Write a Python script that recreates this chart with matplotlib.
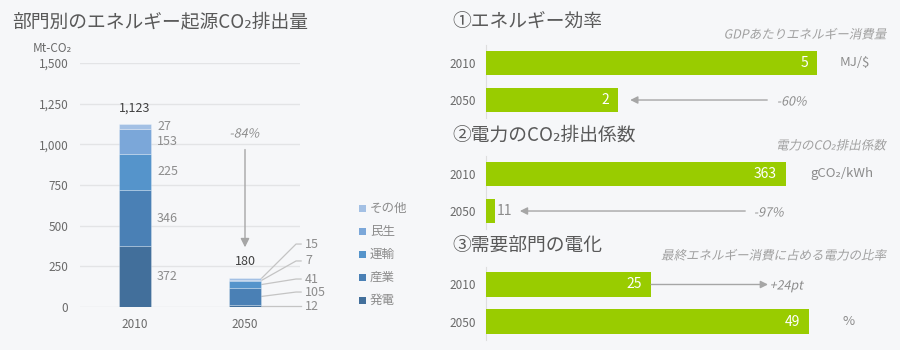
import matplotlib
matplotlib.use("Agg")
import matplotlib.pyplot as plt
from matplotlib.textpath import TextPath
from matplotlib.patches import PathPatch
from matplotlib.font_manager import FontProperties
from matplotlib.transforms import Affine2D, IdentityTransform, offset_copy

plt.rcParams['font.family'] = ['Noto Sans CJK JP', 'DejaVu Sans']

# ---- data -------------------------------------------------------------
years = ['2010', '2050']
sectors = ['発電', '産業', '運輸', '民生', 'その他']
power_gen = [372, 12]
industry = [346, 105]
transport = [225, 41]
residential = [153, 7]
other = [27, 15]
co2_change = '-84%'

energy_intensity = [5, 2]          # MJ/$
intensity_change = '-60%'
grid_emission_factor = [363, 11]   # gCO2/kWh
factor_change = '-97%'
electrification_rate = [25, 49]    # %
electrification_change = '+24pt'

# ---- styling ------------------------------------------------------------
BG = '#f6f7f9'
sector_colors = ['#426f9b', '#4a80b5', '#5594cb', '#7ba7d9', '#a3c0e4']
GREEN = '#99cc00'
TITLE = '#595959'
LABEL = '#8c8c8c'
TICK = '#6a6a6a'
ARROW = '#a6a6a6'
W, H = 900, 350

fig = plt.figure(figsize=(9, 3.5), dpi=100, facecolor=BG)


def px_axes(left, top, right, bottom):
    return fig.add_axes([left / W, 1 - bottom / H, (right - left) / W, (bottom - top) / H])


def fig_text(x, y, s, **kw):
    return fig.text(x / W, 1 - y / H, s, **kw)


def slanted_text(x, y, s, size, color, ha='left'):
    """Draw oblique text (the CJK font has no italic face) at pixel (x, y from top)."""
    prop = FontProperties(family=['Noto Sans CJK JP', 'DejaVu Sans'])
    path = TextPath((0, 0), s, size=size, prop=prop)
    scale = fig.dpi / 72
    tr = Affine2D().skew_deg(12, 0).scale(scale)
    p = tr.transform_path(path)
    e = p.get_extents()
    if ha == 'left':
        dx = x - e.x0
    elif ha == 'right':
        dx = x - e.x1
    else:
        dx = x - (e.x0 + e.x1) / 2
    dy = (H - y) - (size * scale * 0.36)
    p = Affine2D().translate(dx, dy).transform_path(p)
    fig.add_artist(PathPatch(p, facecolor=color, edgecolor='none',
                             transform=IdentityTransform()))


# ---- left: stacked sector emissions ---------------------------------------
ax = px_axes(80, 63, 300, 307)
ax.set_facecolor(BG)
x = [0, 1]
stack = [power_gen, industry, transport, residential, other]
bottoms = [0, 0]
bar_w = 0.29
for vals, col, name in zip(stack, sector_colors, sectors):
    ax.bar(x, vals, bar_w, bottom=bottoms, color=col, edgecolor=(1, 1, 1, 0.3),
           linewidth=0.6, label=name, zorder=3)
    bottoms = [b + v for b, v in zip(bottoms, vals)]
totals = bottoms

ax.set_xlim(-0.5, 1.5)
ax.set_ylim(0, 1500)
ax.set_yticks(range(0, 1501, 250))
ax.set_yticklabels([f'{v:,}' for v in range(0, 1501, 250)])
ax.set_xticks(x)
ax.set_xticklabels(years)
ax.tick_params(length=0, colors=TICK, labelsize=8.5, pad=8)
ax.tick_params(axis='y', pad=8.5)
ax.grid(axis='y', color='#e3e4e6', linewidth=1, zorder=0)
for sp in ax.spines.values():
    sp.set_visible(False)

# totals above bars
for xi, t in zip(x, totals):
    ax.annotate(f'{t:,}', (xi, t), xytext=(0, 12), textcoords='offset points',
                ha='center', va='center', fontsize=9, color='#404040')

# 2010 segment labels
b = 0
for vals in stack:
    v = vals[0]
    ax.text(x[0] + bar_w / 2 + 0.055, b + v / 2, f'{v}', ha='left', va='center',
            fontsize=9, color=LABEL)
    b += v

# 2050 segment labels with leader lines
callout_y = [6, 92, 172, 283, 387]
b = 0
for vals, ly in zip(stack, callout_y):
    v = vals[1]
    mid = b + v / 2
    ax.plot([x[1] + bar_w / 2, 1.464, 1.51], [mid, ly, ly], color='#c4c4c4',
            lw=0.9, clip_on=False, zorder=2)
    ax.text(1.545, ly, f'{v}', ha='left', va='center', fontsize=9, color=LABEL,
            clip_on=False)
    b += v

# reduction arrow
ax.annotate('', xy=(1, 350), xytext=(1, 985),
            arrowprops=dict(arrowstyle='-|>', color=ARROW, lw=1, mutation_scale=13))
slanted_text(245, 133, co2_change, 9, LABEL, ha='center')

# legend
legend_rows = [208, 231, 254, 277, 300]
for name, col, ly in zip(reversed(sectors), reversed(sector_colors), legend_rows):
    fig.add_artist(plt.Rectangle((359 / W, 1 - (ly + 3.5) / H), 7 / W, 7 / H,
                                 facecolor=col, edgecolor='none',
                                 transform=fig.transFigure))
    fig_text(370, ly, name, fontsize=9, color=LABEL, va='center', ha='left')

fig_text(12, 22, '部門別のエネルギー起源CO₂排出量', fontsize=13.5, color=TITLE,
         va='center', ha='left')
fig_text(52, 48, 'Mt-CO₂', fontsize=8.5, color=TICK, va='center', ha='center')


# ---- right: three indicator panels ---------------------------------------
def indicator(top, values, px_per_unit, title, subtitle, unit, unit_row, unit_x,
              title_y, sub_y):
    a = px_axes(486, top, 866, top + 73)
    a.patch.set_alpha(0)
    a.barh([0, 1], values, height=0.65, color=GREEN, zorder=3)
    a.set_xlim(0, 380 / px_per_unit)
    a.set_ylim(1.486, -0.486)
    a.set_xticks([])
    a.set_yticks([0, 1])
    a.set_yticklabels(years)
    a.tick_params(length=0, colors=TICK, labelsize=8.5, pad=7.5)
    for k, sp in a.spines.items():
        sp.set_visible(k == 'left')
    a.spines['left'].set_color('#dedede')
    fig_text(452, title_y, title, fontsize=13.5, color=TITLE, va='center', ha='left')
    slanted_text(887, sub_y, subtitle, 9, '#a0a0a0', ha='right')
    a.text(unit_x, unit_row, unit, transform=a.get_yaxis_transform(),
           fontsize=9.5, color=LABEL, va='center', ha='left')
    return a


def inside_label(a, v, row):
    tr = offset_copy(a.transData, fig=fig, x=-9, y=0, units='dots')
    a.text(v, row, f'{v}', transform=tr, ha='right', va='center',
           fontsize=10, color='white', zorder=4)


# 1) energy efficiency
a1 = indicator(45, energy_intensity, 66.2, '①エネルギー効率',
               'GDPあたりエネルギー消費量', 'MJ/$', 0, (840 - 486) / 380, 22, 34)
for i, v in enumerate(energy_intensity):
    inside_label(a1, v, i)
tip = offset_copy(a1.transData, fig=fig, x=9, y=0, units='dots')
a1.annotate('', xy=(energy_intensity[1], 1), xycoords=tip,
            xytext=((770 - 486) / 380, 1), textcoords=a1.get_yaxis_transform(),
            arrowprops=dict(arrowstyle='-|>', color=ARROW, lw=1, mutation_scale=11))
slanted_text(778, 101, intensity_change, 9, LABEL, ha='left')

# 2) grid emission factor
a2 = indicator(156, grid_emission_factor, 300 / 363, '②電力のCO₂排出係数',
               '電力のCO₂排出係数', 'gCO₂/kWh', 0, (810 - 486) / 380, 135, 145)
inside_label(a2, grid_emission_factor[0], 0)
tr2 = offset_copy(a2.transData, fig=fig, x=2, y=0, units='dots')
a2.text(grid_emission_factor[1], 1, f'{grid_emission_factor[1]}', transform=tr2,
        ha='left', va='center', fontsize=10, color=LABEL)
tip2 = offset_copy(a2.transData, fig=fig, x=22, y=0, units='dots')
a2.annotate('', xy=(grid_emission_factor[1], 1), xycoords=tip2,
            xytext=((748 - 486) / 380, 1), textcoords=a2.get_yaxis_transform(),
            arrowprops=dict(arrowstyle='-|>', color=ARROW, lw=1, mutation_scale=11))
slanted_text(755, 212, factor_change, 9, LABEL, ha='left')

# 3) electrification of demand sectors
a3 = indicator(266.5, electrification_rate, 6.6, '③需要部門の電化',
               '最終エネルギー消費に占める電力の比率', '%', 1, (842 - 486) / 380, 245, 255)
for i, v in enumerate(electrification_rate):
    inside_label(a3, v, i)
a3.annotate('', xy=((768 - 486) / 380, 0), xycoords=a3.get_yaxis_transform(),
            xytext=(electrification_rate[0], 0), textcoords='data',
            arrowprops=dict(arrowstyle='-|>', color=ARROW, lw=1, mutation_scale=11,
                            shrinkA=0, shrinkB=0))
slanted_text(771, 285, electrification_change, 9, LABEL, ha='left')

fig.savefig('out.png', dpi=100, facecolor=BG)
